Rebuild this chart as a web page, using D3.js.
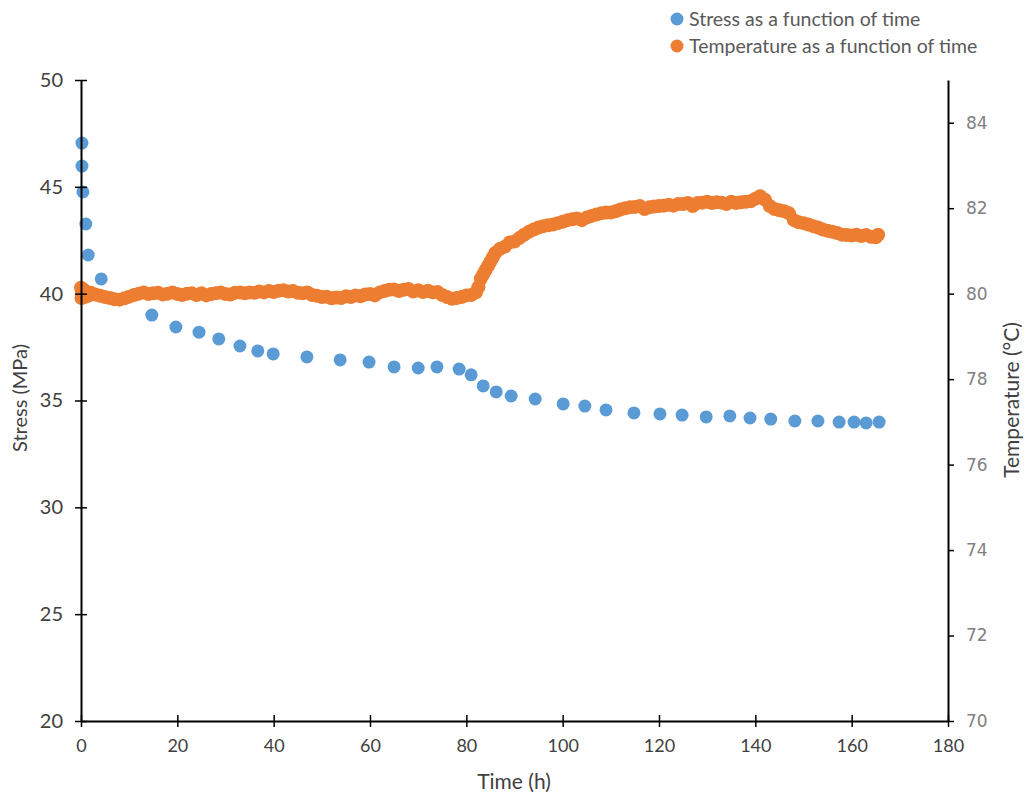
<!DOCTYPE html>
<html>
<head>
<meta charset="utf-8">
<script src="https://cdn.jsdelivr.net/npm/d3@7"></script>
<style>
  body { margin: 0; background: #fff; }
  text { font-family: Lato, "Open Sans", sans-serif; }
</style>
</head>
<body>
<svg id="chart" width="1026" height="796"></svg>
<script>
// Stress relaxation measurements (time in h, stress in MPa)
const stressTime = [0.2, 0.2, 0.4, 1.0, 1.5, 4.2, 14.7, 19.7, 24.5, 28.6, 33.0, 36.7, 39.9, 46.9, 53.8, 59.8,
  65.0, 70.0, 73.9, 78.5, 81.0, 83.5, 86.2, 89.3, 94.3, 100.1, 104.6, 109.0, 114.8, 120.2, 124.8, 129.8,
  134.7, 138.9, 143.2, 148.2, 153.0, 157.4, 160.5, 163.0, 165.7];
const stressValue = [47.05, 45.97, 44.76, 43.26, 41.81, 40.69, 39.0, 38.44, 38.2, 37.88, 37.55, 37.32, 37.18, 37.04, 36.9, 36.8,
  36.57, 36.52, 36.57, 36.47, 36.2, 35.68, 35.4, 35.21, 35.07, 34.84, 34.74, 34.56, 34.42, 34.37, 34.32, 34.23,
  34.28, 34.18, 34.13, 34.04, 34.04, 33.99, 33.99, 33.95, 33.99];

// Temperature log (time in h, temperature in °C)
const tempTime = [0, 0.1, 0.2, 0.3, 0.5, 0.7, 1, 1.5, 2, 3, 4, 5, 6, 7, 8, 9, 10, 11, 12, 13, 14, 15, 16, 17, 18, 19, 20, 21, 22, 23, 24, 25, 26, 27, 28, 29,
  30, 31, 32, 33, 34, 35, 36, 37, 38, 39, 40, 41, 42, 43, 44, 45, 46, 47, 48, 49, 50, 51, 52, 53, 54, 55, 56, 57, 58, 59,
  60, 61, 62, 63, 64, 65, 66, 67, 68, 69, 70, 71, 72, 73, 74, 75, 76, 77, 78, 79, 80, 81, 82, 82.5, 83, 83.5, 84, 84.5, 85, 85.5, 86,
  87, 88, 89, 90, 91, 92, 93, 94, 95, 96, 97, 98, 99, 100, 101, 102, 103, 104, 105, 106, 107, 108, 109, 110, 111, 112, 113,
  114, 115, 116, 117, 118, 119, 120, 121, 122, 123, 124, 125, 126, 127, 128, 129, 130, 131, 132, 133, 134, 135, 136, 137,
  138, 139, 140, 141, 142, 143, 144, 145, 146, 147, 148, 149, 150, 151, 152, 153, 154, 155, 156, 157, 158, 159, 160, 161,
  162, 163, 164, 165, 165.5];
const tempValue = [80.14, 79.9, 80.06, 79.95, 80.1, 79.92, 80.05, 79.95, 80.02, 79.98, 79.95, 79.92, 79.9, 79.87, 79.86, 79.89, 79.93, 79.97, 80.0, 80.03, 79.99, 80.01, 80.02, 79.98, 80.0, 80.03, 79.99, 79.97, 80.0, 80.01, 79.97, 80.01, 79.96, 79.99, 80.01, 80.03,
  79.99, 79.98, 80.02, 80.03, 80.01, 80.03, 80.02, 80.05, 80.03, 80.06, 80.04, 80.07, 80.08, 80.05, 80.06, 80.02, 80.01, 80.03, 79.97, 79.95, 79.92, 79.93, 79.89, 79.91, 79.9, 79.94, 79.92, 79.96, 79.94, 79.98,
  79.99, 79.96, 80.03, 80.06, 80.09, 80.1, 80.06, 80.09, 80.11, 80.05, 80.08, 80.04, 80.07, 80.03, 80.04, 79.97, 79.92, 79.88, 79.9, 79.92, 79.96, 79.97, 80.03, 80.15, 80.35, 80.45, 80.55, 80.65, 80.75, 80.85, 80.95,
  81.05, 81.1, 81.2, 81.22, 81.3, 81.38, 81.45, 81.5, 81.55, 81.58, 81.6, 81.62, 81.65, 81.68, 81.72, 81.74, 81.76, 81.72, 81.78, 81.82, 81.85, 81.88, 81.9, 81.9, 81.93, 81.97, 82.0,
  82.02, 82.03, 82.05, 81.98, 82.02, 82.04, 82.05, 82.06, 82.08, 82.06, 82.1, 82.1, 82.12, 82.05, 82.12, 82.13, 82.15, 82.12, 82.14, 82.13, 82.1, 82.15, 82.12, 82.14,
  82.15, 82.16, 82.22, 82.28, 82.2, 82.05, 81.98, 81.95, 81.93, 81.88, 81.72, 81.67, 81.65, 81.62, 81.58, 81.55, 81.5, 81.47, 81.45, 81.42, 81.38, 81.37, 81.36, 81.38,
  81.35, 81.37, 81.33, 81.32, 81.38];

const timeTicks = [0, 20, 40, 60, 80, 100, 120, 140, 160, 180];
const stressTicks = [20, 25, 30, 35, 40, 45, 50];
const tempTicks = [70, 72, 74, 76, 78, 80, 82, 84];

const seriesNames = ["Stress as a function of time", "Temperature as a function of time"];
const colors = ["#5B9BD5", "#ED7D31"];

const svg = d3.select("#chart");
const plot = { left: 81, right: 948, top: 80, bottom: 721 };

const x = d3.scaleLinear().domain([0, 180]).range([plot.left, plot.right]);
const yStress = d3.scaleLinear().domain([20, 50]).range([plot.bottom, plot.top]);
const yTemp = d3.scaleLinear().domain([70, 85]).range([plot.bottom, plot.top]);

// Temperature markers first, stress on top
svg.append("g").selectAll("circle")
  .data(tempTime.map((t, i) => [t, tempValue[i]]))
  .join("circle")
  .attr("cx", d => x(d[0]))
  .attr("cy", d => yTemp(d[1]))
  .attr("r", 7)
  .attr("fill", colors[1]);

svg.append("g").selectAll("circle")
  .data(stressTime.map((t, i) => [t, stressValue[i]]))
  .join("circle")
  .attr("cx", d => x(d[0]))
  .attr("cy", d => yStress(d[1]))
  .attr("r", 6.5)
  .attr("fill", colors[0]);

// Axes
const xAxis = svg.append("g")
  .attr("transform", `translate(0,${plot.bottom})`)
  .call(d3.axisBottom(x).tickValues(timeTicks).tickSize(6).tickSizeOuter(0).tickPadding(12));
xAxis.selectAll(".tick line").attr("y1", -6).attr("y2", 6).attr("stroke-width", 1.5);
xAxis.select(".domain").attr("stroke-width", 2);
xAxis.selectAll(".tick text").attr("font-size", 18).attr("fill", "#404040");

const yLeft = svg.append("g")
  .attr("transform", `translate(${plot.left},0)`)
  .call(d3.axisLeft(yStress).tickValues(stressTicks).tickSize(6).tickSizeOuter(0).tickPadding(12));
yLeft.selectAll(".tick line").attr("x1", -6).attr("x2", 6).attr("stroke-width", 1.5);
yLeft.select(".domain").attr("stroke-width", 2);
yLeft.selectAll(".tick text").attr("font-size", 20).attr("fill", "#404040");

const yRight = svg.append("g")
  .attr("transform", `translate(${plot.right},0)`)
  .call(d3.axisRight(yTemp).tickValues(tempTicks).tickSize(6).tickSizeOuter(0).tickPadding(12));
yRight.select(".domain").attr("stroke-width", 2);
yRight.selectAll(".tick line").attr("stroke-width", 1.5);
yRight.selectAll(".tick text").attr("font-size", 17).attr("fill", "#808080")
  .style("font-family", "'DejaVu Sans', sans-serif");

// Axis titles
svg.append("text")
  .attr("x", 514).attr("y", 789)
  .attr("text-anchor", "middle").attr("font-size", 21).attr("fill", "#404040")
  .text("Time (h)");

svg.append("text")
  .attr("transform", "translate(27,398) rotate(-90)")
  .attr("text-anchor", "middle").attr("font-size", 20).attr("fill", "#404040")
  .text("Stress (MPa)");

svg.append("text")
  .attr("transform", "translate(1019,400) rotate(-90)")
  .attr("text-anchor", "middle").attr("font-size", 21).attr("fill", "#404040")
  .text("Temperature (°C)");

// Legend
const legend = svg.append("g").selectAll("g")
  .data(seriesNames)
  .join("g")
  .attr("transform", (d, i) => `translate(677,${19 + i * 27})`);
legend.append("circle").attr("r", 6.5).attr("fill", (d, i) => colors[i]);
legend.append("text")
  .attr("x", 12).attr("y", 7)
  .attr("font-size", 19.5).attr("fill", "#595959")
  .text(d => d);
</script>
</body>
</html>
